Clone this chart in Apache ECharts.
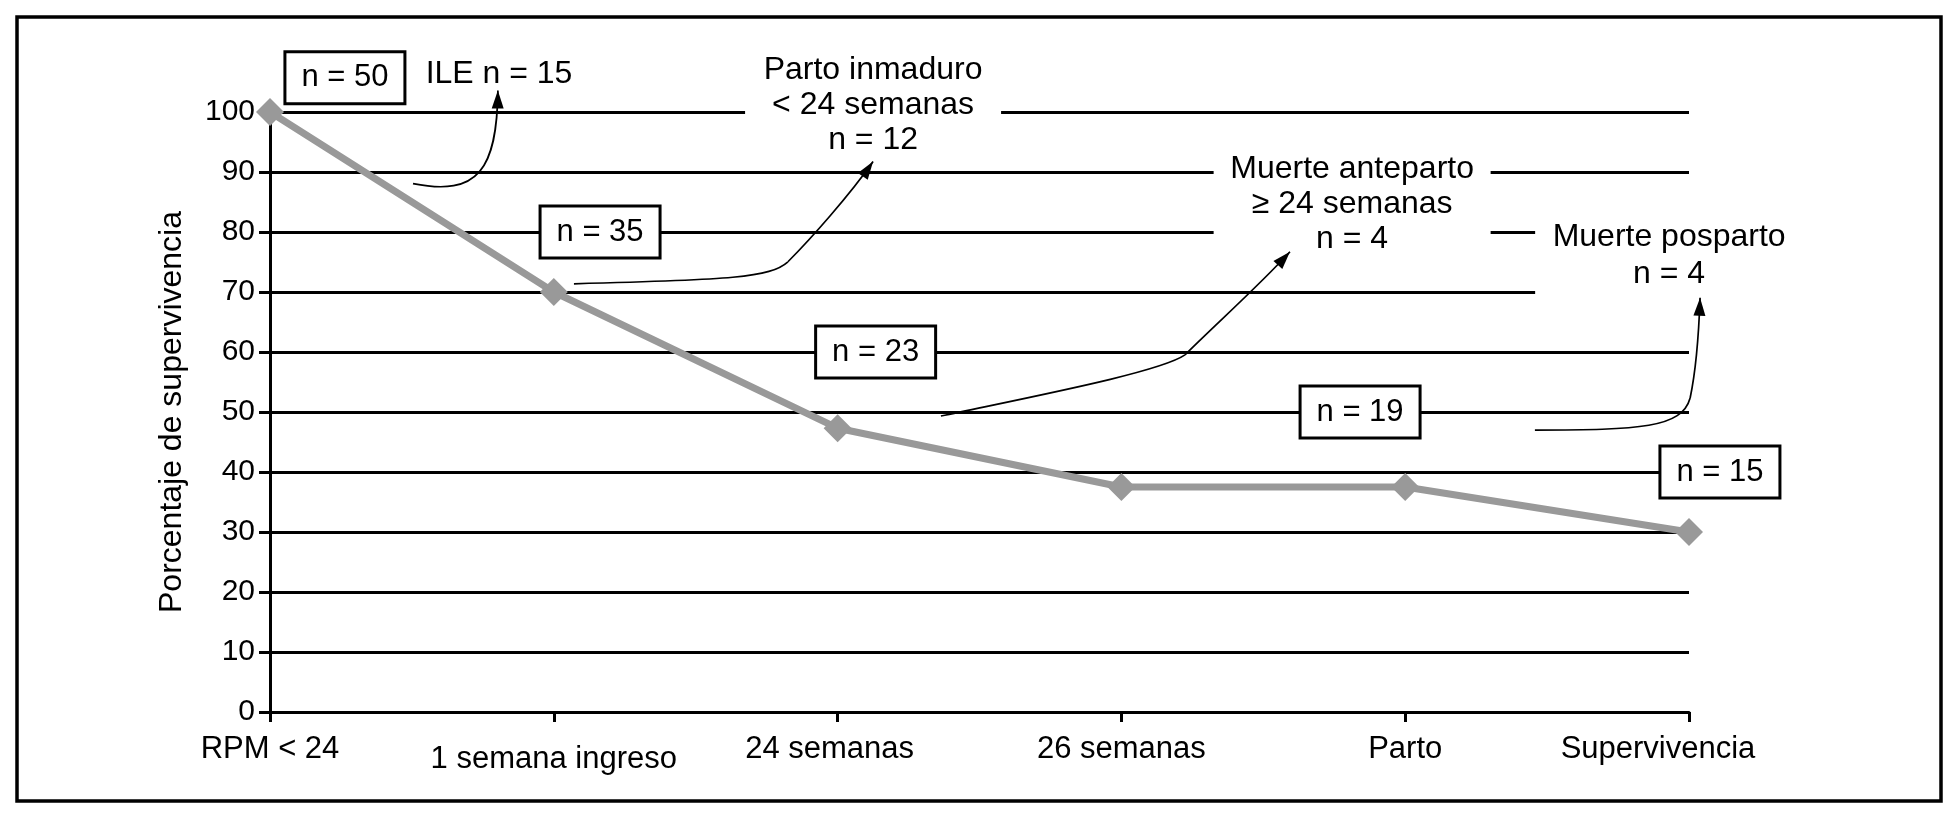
<!DOCTYPE html>
<html><head><meta charset="utf-8">
<script src="https://cdn.jsdelivr.net/npm/echarts@6/dist/echarts.min.js"></script>
<style>html,body{margin:0;padding:0;background:#fff}#c{width:1959px;height:816px}</style>
</head><body><div id="c"></div>
<script>
// ---- data ----
const categories = ['RPM < 24', '1 semana ingreso', '24 semanas', '26 semanas', 'Parto', 'Supervivencia'];
const survival = [100, 70, 47.3, 37.5, 37.5, 30];
const yMin = 0, yMax = 100, yStep = 10;
const yAxisTitle = 'Porcentaje de supervivencia';
const countLabels = ['n = 50', 'n = 35', 'n = 23', 'n = 19', 'n = 15'];
const lossLabels = ['ILE n = 15', 'Parto inmaduro\n< 24 semanas\nn = 12', 'Muerte anteparto\n≥ 24 semanas\nn = 4', 'Muerte posparto\nn = 4'];

// ---- annotation placement (in axis units: x = category position, y = percentage) ----
const countAnchors = [[0.264, 105.7], [1.163, 80], [2.134, 60], [3.841, 50], [5.109, 40]];
const lossAnchors = [[0.807, 106.3], [2.125, 101.1], [3.813, 84.72], [4.930, 76.04]];
const lossBg = [null, [256, 104], [277, 104], [268, 86]];
const lossLineHeight = [35, 35, 35, 37];
const arrows = [
  [[0.504, 88.06], [0.733, 85.89], [0.800, 90.4], [0.803, 103.59]],
  [[1.071, 71.37], [1.621, 72.04], [1.762, 72.37], [1.825, 75.04], [1.903, 78.71], [2.044, 86.23], [2.125, 91.74]],
  [[2.364, 49.33], [2.713, 52.84], [3.136, 56.68], [3.224, 59.52], [3.330, 64.52], [3.488, 71.2], [3.594, 76.71]],
  [[4.457, 46.99], [4.827, 46.99], [4.975, 47.33], [5.004, 52.34], [5.025, 57.01], [5.035, 63.69], [5.039, 69.03]]
];
// label style per category (label position tweaks)
const labelStyleKey = ['', 'low', 'l8', '', '', 'l31'];

const FONT = '"Liberation Sans", Arial, Helvetica, sans-serif';
const base = {fontSize: 31, fontFamily: FONT, color: '#000'};
const chart = echarts.init(document.getElementById('c'), null, {renderer: 'canvas'});
chart.setOption({
  animation: false,
  backgroundColor: '#fff',
  grid: {left: 270, right: 270, top: 112, bottom: 104},
  xAxis: [{
    type: 'category', data: categories, boundaryGap: false,
    axisLine: {lineStyle: {color: '#000', width: 3}},
    axisTick: {length: 10, lineStyle: {color: '#000', width: 3}},
    axisLabel: {
      color: '#000', fontSize: 31, fontFamily: FONT, margin: 22, interval: 0,
      formatter: (v, i) => labelStyleKey[i] ? '{' + labelStyleKey[i] + '|' + v + '}' : v,
      rich: {
        low: Object.assign({padding: [10, 0, 0, 0]}, base),
        l8: Object.assign({padding: [0, 16, 0, 0]}, base),
        l31: Object.assign({padding: [0, 62, 0, 0]}, base)
      }
    },
    splitLine: {show: false}
  }, {type: 'value', min: 0, max: categories.length - 1, show: false}],
  yAxis: {
    type: 'value', min: yMin, max: yMax, interval: yStep,
    name: yAxisTitle, nameLocation: 'middle', nameGap: 82,
    nameTextStyle: {color: '#000', fontSize: 32, fontFamily: FONT},
    axisLine: {show: true, lineStyle: {color: '#000', width: 3}},
    axisTick: {show: true, length: 11, lineStyle: {color: '#000', width: 3}},
    axisLabel: {color: '#000', fontSize: 30, fontFamily: FONT, margin: 15},
    splitLine: {show: true, lineStyle: {color: '#000', width: 3}}
  },
  series: [{
    type: 'line', data: survival, xAxisIndex: 0, yAxisIndex: 0,
    symbol: 'diamond', symbolSize: 28,
    lineStyle: {color: '#999999', width: 7},
    itemStyle: {color: '#999999'}
  }]
});

const P = p => chart.convertToPixel({xAxisIndex: 1, yAxisIndex: 0}, p);
const g = [];
// outer frame
g.push({type: 'rect', z: 100, shape: {x: 17, y: 17, width: 1924, height: 784},
  style: {fill: 'none', stroke: '#000', lineWidth: 3.5}});
// count boxes
countLabels.forEach((t, i) => {
  const [x, y] = P(countAnchors[i]);
  g.push({type: 'rect', z: 110, shape: {x: x - 60, y: y - 26, width: 120, height: 52},
    style: {fill: '#fff', stroke: '#000', lineWidth: 3}});
  g.push({type: 'text', z: 111, x: x, y: y,
    style: {text: t, font: '31px ' + FONT, fill: '#000', align: 'center', verticalAlign: 'middle'}});
});
// loss labels
lossLabels.forEach((t, i) => {
  const [x, y] = P(lossAnchors[i]);
  if (lossBg[i]) {
    const [w, h] = lossBg[i];
    const left = i === 3 ? x - 140 : x - w / 2;
    g.push({type: 'rect', z: 105, shape: {x: left + (i === 3 ? 6 : 0), y: y - h / 2, width: w, height: h},
      style: {fill: '#fff', stroke: null}});
  }
  g.push({type: 'text', z: 111, x: x, y: y,
    style: {text: t, font: '32px ' + FONT, fill: '#000', align: 'center', verticalAlign: 'middle', lineHeight: lossLineHeight[i]}});
});
// arrows
arrows.forEach(a => {
  const pts = a.map(P);
  for (let k = 1; k + 2 < pts.length; k += 3) {
    const s = pts[k - 1], c1 = pts[k], c2 = pts[k + 1], e = pts[k + 2];
    g.push({type: 'bezierCurve', z: 120,
      shape: {x1: s[0], y1: s[1], cpx1: c1[0], cpy1: c1[1], cpx2: c2[0], cpy2: c2[1], x2: e[0], y2: e[1]},
      style: {stroke: '#000', lineWidth: 1.7, fill: null}});
  }
  const tip = pts[pts.length - 1], from = pts[pts.length - 2];
  const dx = tip[0] - from[0], dy = tip[1] - from[1];
  const L = Math.hypot(dx, dy), ux = dx / L, uy = dy / L;
  const len = 18, hw = 6;
  const bx = tip[0] - ux * len, by = tip[1] - uy * len;
  g.push({type: 'polygon', z: 121,
    shape: {points: [tip, [bx - uy * hw, by + ux * hw], [bx + uy * hw, by - ux * hw]]},
    style: {fill: '#000', stroke: null}});
});
chart.setOption({graphic: g});
</script>
</body></html>
